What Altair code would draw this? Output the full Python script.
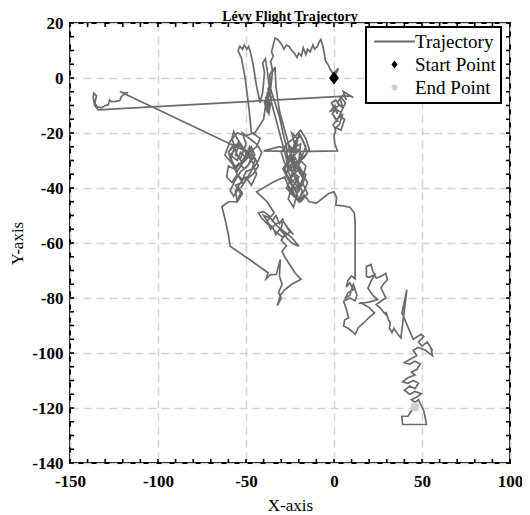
import altair as alt
import pandas as pd

# ---------------- data ----------------
# trajectory, in walking order, split into stretches
seg1_x = [0, 1.5, 2.5, 1, -0.5, -2, -3.5, -5, -5.5, -6.5, -7.5, -8.5, -9.5, -11, -12, -13.5, -15, -16, -17.5, -18.5,
          -20, -21, -22.5, -24, -25.5, -27, -28.5, -30, -32, -33.5, -34.5, -35.5, -34.5, -36, -35, -36.5, -36, -37.5,
          -36.5, -38, -37, -39, -36, -38.5, -37.5, -39.5, -38, -36.5, -38, -35.5, -37, -39, -38]
seg1_y = [0, 2, 3.5, 2.5, 1.5, 3, 5, 6.5, 9, 12, 14, 13, 11.5, 10.5, 12, 9.5, 10.5, 8.5, 11, 8,
          9, 7.5, 9, 10, 11.5, 12, 10.5, 12.5, 14, 14.5, 12, 9.5, 8, 6, 3, 1, -2, -4,
          -6, -8, -10, -7, -8.5, -11, -6.5, -9, -12, -9.5, -5, -7, -13, -10, -6]
seg2_x = [-40, -43, -45.5, -47, -48.5, -50.5, -52.5, -54.5, -53.5, -52, -51, -49.5, -48.5, -47.5, -46, -44, -42, -40.5,
          -39.5, -40.5, -39, -38, -37, -35.5, -33, -30.5, -28, -26, -27, -29, -31, -34, -36, -35, -33.5, -33, -31, -28,
          -24, -22]
seg2_y = [-15, -18, -20.5, -19.5, -10, 0, 7, 10, 11.5, 10.5, 12, 10.5, 11.5, 9.5, 5, -3, -9, -5,
          2, 5.5, 7, 3, -2, -9, -15, -21, -27, -32, -25, -20, -14, -8, -4, 2, 4, -3, -12, -19,
          -28, -34]
seg3_x = [-23, -21, -24, -22, -19, -20, -23, -25, -27, -24, -21, -19, -22, -24, -26, -23, -21, -18, -16, -19,
          -15, -17, -20, -22, -26, -24, -21, -18, -20, -25, -23, -20, -17, -19, -22, -25, -27, -24, -22, -19,
          -16, -18, -21, -24, -26, -23, -20, -18, -21, -23, -25, -22, -19, -17, -20, -24, -26, -22, -18, -15,
          -17, -20, -23]
seg3_y = [-27, -22, -20, -25, -24, -30, -33, -29, -35, -38, -36, -40, -43, -40, -44, -47, -42, -37, -32, -30,
          -27, -24, -20, -27, -24, -30, -33, -29, -26, -26, -31, -34, -37, -39, -36, -33, -30, -27, -23, -21,
          -25, -28, -31, -35, -39, -42, -45, -41, -38, -35, -32, -29, -33, -36, -40, -37, -34, -31, -35, -38,
          -41, -44, -39]
seg3b_x = [-20, -24, -28, -30, -27, -23, -19, -16, -14, -17, -21, -25, -29, -26, -22, -18, -15, -19, -23, -27,
           -24, -20, -16, -18, -22, -26, -28, -25, -21]
seg3b_y = [-36, -34, -31, -27, -24, -22, -19, -22, -26, -29, -31, -29, -33, -37, -40, -38, -42, -45, -43, -40,
           -36, -33, -35, -39, -41, -37, -33, -30, -27]
seg4_x = [-21, -26, -31, -40, -20, 2,
          0.5, 0, 1, -0.5, 1.5, 0, 2.5, -1, 1, -2, 0.5, 2, -1.5, 1, 3, 0, 4, 2, 5, 3, 1, 4, 6, 3, 5, 2, 4, 6.5,
          5, 3.5, 5.5, 7, 5.3, 8, 11, 9]
seg4_y = [-26, -26, -25, -26.5, -26.8, -26.5,
          -24, -21, -19, -17, -15.5, -14, -16, -13, -11.5, -12, -10, -13, -9, -8, -10, -11, -12.5, -15, -13, -17,
          -18, -19, -15, -14, -11, -9, -7, -9, -11, -7.5, -6, -8, -4.9, -6, -7.1, -6.5]
seg5_x = [-134, -136, -136.8, -136.5, -135, -135.8, -134.5, -132, -130, -128.3, -127.5, -126.4, -124, -121.7,
          -120.8, -118.9, -117, -119.5, -121.7]
seg5_y = [-11.6, -10, -7, -5.5, -6.5, -9.2, -10.5, -10.8, -10, -9.8, -8, -8.6, -8.5, -8.2,
          -6.7, -5.8, -5.3, -5.5, -4.9]
seg6_x = [-49, -52, -55, -57, -58, -56, -59, -55, -53, -50, -47, -45, -48, -51, -54, -57, -60, -61, -58, -55,
          -52, -50, -46, -43, -41, -44, -48, -52, -50, -53, -56, -54, -51, -47, -49, -53, -56, -59, -57, -54,
          -52, -55, -56, -53, -50, -47, -44, -46, -49, -52, -55, -58, -60, -57, -55, -52, -49, -51, -54, -57,
          -59, -56, -53, -50, -48, -45, -47, -50, -53]
seg6_y = [-27, -25, -22, -19.5, -22, -26, -28, -30, -27, -29, -25, -28, -31, -33, -31, -33, -32, -36, -38, -35,
          -37, -34, -33, -30, -27, -24, -22, -20, -24, -29, -28, -24, -26, -29, -32, -34, -37, -41, -43, -40,
          -42, -45, -41, -38, -36, -39, -35, -31, -28, -31, -34, -30, -27, -25, -28, -31, -29, -26, -23, -26,
          -30, -33, -31, -28, -25, -30, -34, -37, -40]
seg6b_x = [-50, -46, -43, -45, -49, -53, -57, -60, -58, -54, -51, -48, -44, -42, -46, -50, -55, -59, -62, -58,
           -55, -52, -56, -53]
seg6b_y = [-37, -35, -32, -29, -27, -25, -24, -27, -31, -33, -30, -27, -25, -22, -20, -21, -20, -23, -28, -31,
           -35, -38, -39, -42]
seg7_x = [-54, -55, -60, -63.7, -62, -60, -59, -48, -37.5, -38.5, -36, -32.8, -30.5, -31, -29.5, -31.5, -30, -32.2,
          -30.5, -28, -24, -18.7, -22, -25, -28, -29.5, -27, -30, -28, -31, -33, -35, -38, -41, -43, -40, -37, -35,
          -33, -31, -29, -30, -27, -24, -20,
          -24, -28, -32, -36, -40, -37, -33, -29, -25, -28,
          -23, -26, -29, -33, -36, -38, -34, -38, -44]
seg7_y = [-43, -45, -45, -46.8, -51, -57, -61.2, -66, -70.8, -73, -71.5, -71.4, -66, -72, -75, -78, -80, -82.8,
          -79, -77, -75, -73.2, -71, -68, -65, -63, -61, -59, -57, -55, -57, -54, -53, -51, -49, -48.6, -50, -52,
          -50, -53, -51, -55, -58, -60, -61.2,
          -58, -56, -54, -51, -50, -53, -56, -58, -56, -53,
          -57, -55, -52, -53, -55, -52, -49, -45, -41.4]
seg8_x = [-35, -28, -25, -20, -17, -14, -10, -7, -3, 0, 1.5, 1, 5, 9, 11.5, 12, 12, 12, 12]
seg8_y = [-38, -36, -41, -45, -42.5, -45, -45.5, -44, -42, -41.4, -43.5, -46.2, -46.5, -47, -49, -52.2, -60, -66, -73]
seg9_x = [10, 8, 7, 9, 11, 8, 6.5, 9, 11, 13, 12, 9, 5.5, 7, 8.3, 6, 5.5, 8, 10, 12, 13.8, 17, 20, 23, 20, 15.6,
          14, 20, 24.8, 22, 19.3, 21, 23, 20, 18.4, 18.4, 21, 22, 24, 27, 29.4, 30.3, 28, 26.7, 28, 29.4, 27, 24,
          26, 28, 30.3, 29.5, 31, 32, 31.5, 33, 34, 36, 38, 41.4, 38.6, 45, 47, 49.6, 51, 48, 50, 53, 56, 55, 56]
seg9_y = [-72, -73.5, -76, -74.5, -77, -78, -80, -79, -75, -79, -81, -80, -81.2, -84, -87.2, -88, -90.2, -91, -92,
          -93.2, -90.8, -89, -87, -85.4, -83.5, -81.8, -82, -81.5, -80.6, -79, -76.4, -74, -71.6, -72.5, -72.2,
          -68.6, -67.8, -70, -72.8, -72, -71, -73.4, -75, -76.4, -78, -80, -81, -82.4, -83.5, -85, -86.6, -85, -88,
          -89, -91, -92.6, -91, -93, -94.5, -77, -85.4, -95, -94.2, -93.2, -94, -96, -97.5, -96, -99.2, -98, -101]
seg10_x = [52, 48, 45, 47, 44, 40, 43, 46, 49, 47, 44, 46, 42, 39, 42, 45, 48, 46, 43, 40, 43, 46, 49.6, 47, 44,
           46, 48, 51, 52, 52.5, 45, 39, 38.5, 42, 44, 46]
seg10_y = [-99, -98, -99, -101, -102, -103.5, -104, -103, -104, -106, -107, -108, -109, -110.5, -111, -110, -111,
           -113, -112, -113.5, -115, -114, -114.8, -116, -117, -118, -117, -121, -124, -126, -126, -126, -123, -123,
           -121, -119.6]

start_x, start_y = [0.0], [0.0]
end_x, end_y = [46.0], [-119.6]
series_names = ["Trajectory", "Start Point", "End Point"]
series_colors = ["#6b6b6b", "#000000", "#cfcfcf"]
x_major = [-150, -100, -50, 0, 50, 100]
y_major = [-140, -120, -100, -80, -60, -40, -20, 0, 20]
x_minor = list(range(-150, 101, 10))
y_minor = list(range(-140, 21, 5))

# ---------------- chart ----------------
FONT = "Liberation Serif"
W, H = 440, 440
TICK = 4

xs_all = (seg1_x + seg2_x + seg3_x + seg3b_x + seg4_x + seg5_x + seg6_x + seg6b_x + seg7_x + seg8_x
          + seg9_x + seg10_x)
ys_all = (seg1_y + seg2_y + seg3_y + seg3b_y + seg4_y + seg5_y + seg6_y + seg6b_y + seg7_y + seg8_y
          + seg9_y + seg10_y)
traj = pd.DataFrame({"x": xs_all, "y": ys_all, "step": list(range(len(xs_all)))})
pts = pd.DataFrame({"x": start_x + end_x, "y": start_y + end_y,
                    "series": ["Start Point", "End Point"]})
start_df = pd.DataFrame({"x": start_x, "y": start_y})
end_df = pd.DataFrame({"x": end_x, "y": end_y})
xt = pd.DataFrame({"x": x_minor})
yt = pd.DataFrame({"y": y_minor})

xs = alt.Scale(domain=[-150, 100], nice=False, zero=False)
ys = alt.Scale(domain=[-140, 20], nice=False, zero=False)

axis_common = dict(grid=True, ticks=False, domain=False, labelFont=FONT, labelFontSize=17,
                   labelFontWeight="bold", labelColor="black", titleFont=FONT, titleFontSize=17,
                   titleFontWeight="normal", titleColor="black", gridDash=[8, 5],
                   gridColor="#d4d4d4", gridWidth=1.5, labelFlush=False, labelOverlap=False,
                   labelExpr="'' + datum.value")
x_axis = alt.Axis(title="X-axis", values=x_major, labelPadding=10, titlePadding=8, **axis_common)
y_axis = alt.Axis(title="Y-axis", values=y_major, labelPadding=7, titlePadding=5, **axis_common)

X = lambda: alt.X("x:Q", scale=xs, axis=x_axis)
Y = lambda: alt.Y("y:Q", scale=ys, axis=y_axis)

line = alt.Chart(traj).mark_line(color="#6b6b6b", strokeWidth=1.7).encode(
    x=X(), y=Y(), order="step:Q")

LINE_SYM = "M-6.8,-0.33H6.8V0.33H-6.8Z"
DIAMOND = "M0,-1.3L1,0L0,1.3L-1,0Z"
leg = alt.Legend(title=None, orient="none", legendX=296, legendY=4, symbolSize=36,
                 symbolStrokeWidth=0, labelFont=FONT, labelFontSize=19, labelColor="black",
                 fillColor="white", strokeColor="black", padding=5, rowPadding=3,
                 symbolOffset=14, labelOffset=11)
legend_pts = alt.Chart(pts).mark_point(filled=True, size=36, opacity=1).encode(
    x=X(), y=Y(),
    color=alt.Color("series:N", scale=alt.Scale(domain=series_names, range=series_colors), legend=leg),
    shape=alt.Shape("series:N", scale=alt.Scale(domain=series_names, range=[LINE_SYM, DIAMOND, "circle"]), legend=leg),
)
start_mark = alt.Chart(start_df).mark_point(shape=DIAMOND, filled=True, color="#000000", size=100, opacity=1).encode(x=X(), y=Y())
end_mark = alt.Chart(end_df).mark_point(shape="circle", filled=True, color="#cfcfcf", size=85, opacity=1).encode(x=X(), y=Y())

tick_style = dict(color="black", strokeWidth=1.6)
t_bottom = alt.Chart(xt).mark_rule(**tick_style).encode(x=X(), y=alt.value(H), y2=alt.value(H - TICK))
t_top = alt.Chart(xt).mark_rule(**tick_style).encode(x=X(), y=alt.value(0), y2=alt.value(TICK))
t_left = alt.Chart(yt).mark_rule(**tick_style).encode(y=Y(), x=alt.value(0), x2=alt.value(TICK))
t_right = alt.Chart(yt).mark_rule(**tick_style).encode(y=Y(), x=alt.value(W), x2=alt.value(W - TICK))

chart = alt.layer(line, start_mark, end_mark, legend_pts, t_bottom, t_top, t_left, t_right).properties(
    width=W, height=H,
    title=alt.TitleParams("Lévy Flight Trajectory", font=FONT, fontSize=14, fontWeight="bold",
                          color="black", offset=1, anchor="middle", frame="group", dy=11),
    autosize=alt.AutoSizeParams(type="none"),
    padding={"left": 62, "top": 15, "right": 12, "bottom": 52},
).configure_view(stroke="black", strokeWidth=2).configure_legend(strokeWidth=2)

chart.save("out.html", embed_options={"renderer": "svg", "actions": False})
